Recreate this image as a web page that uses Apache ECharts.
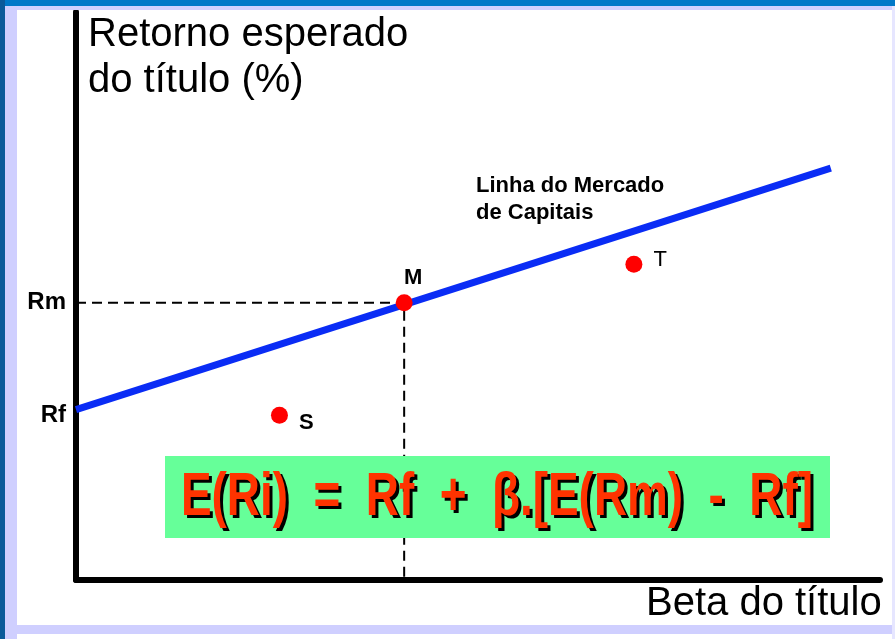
<!DOCTYPE html>
<html>
<head>
<meta charset="utf-8">
<script src="https://cdn.jsdelivr.net/npm/echarts@6/dist/echarts.min.js"></script>
<style>
  html, body { margin: 0; padding: 0; background: #ffffff; }
  #chart { width: 895px; height: 639px; }
</style>
</head>
<body>
<div id="chart"></div>
<script>
  // valores (beta no eixo x, retorno no eixo y)
  var rf = 3.0;
  var rm = 4.88;
  var lmcLine = [[0, 3.0], [2.30, 7.25]];
  var pontoM = [1, 4.88];
  var pontoT = [1.70, 5.56];
  var pontoS = [0.62, 2.90];
  var nomesPontos = ['M', 'T', 'S'];
  var eixoY = ['Rm', 'Rf'];
  var formula = 'E(Ri)  =  Rf  +  β.[E(Rm)  -  Rf]';

  var chart = echarts.init(document.getElementById('chart'));
  var fonte = '"Liberation Sans", Arial, sans-serif';

  var option = {
    animation: false,
    backgroundColor: '#ffffff',
    grid: { left: 76, right: 15, top: 12, bottom: 59 },
    xAxis: {
      type: 'value', min: 0, max: 2.45,
      axisLine: { show: true, lineStyle: { color: '#000', width: 6 } },
      axisTick: { show: false }, axisLabel: { show: false }, splitLine: { show: false }
    },
    yAxis: {
      type: 'value', min: 0, max: 10,
      axisLine: { show: true, lineStyle: { color: '#000', width: 6 } },
      axisTick: { show: false }, axisLabel: { show: false }, splitLine: { show: false }
    },
    series: [
      {
        // linhas tracejadas até Rm e até o eixo beta
        type: 'line',
        data: [[0, rm], pontoM, [pontoM[0], 0]],
        symbol: 'none',
        lineStyle: { color: '#000', width: 2, type: [10, 6] },
        z: 1
      },
      {
        type: 'line',
        data: lmcLine,
        symbol: 'none',
        lineStyle: { color: '#0a2cf5', width: 7 },
        z: 3
      },
      {
        type: 'scatter',
        data: [
          { value: pontoM, name: nomesPontos[0], label: { position: 'top', offset: [9, 0], fontWeight: 'bold' } },
          { value: pontoT, name: nomesPontos[1], label: { position: 'right', offset: [6, -4], fontWeight: 'normal' } },
          { value: pontoS, name: nomesPontos[2], label: { position: 'right', offset: [6, 8], fontWeight: 'bold' } }
        ],
        symbolSize: 17,
        itemStyle: { color: '#ff0000', opacity: 1 },
        label: { show: true, formatter: '{b}', color: '#000', fontSize: 22, fontFamily: fonte },
        z: 4
      },
      {
        // rótulos Rm e Rf no eixo vertical
        type: 'scatter',
        data: [
          { value: [0, rm], name: eixoY[0] },
          { value: [0, rf], name: eixoY[1], label: { offset: [0, 6] } }
        ],
        symbolSize: 0,
        itemStyle: { opacity: 1 },
        label: {
          show: true, position: 'left', distance: 10, formatter: '{b}',
          color: '#000', fontSize: 24, fontWeight: 'bold', fontFamily: fonte
        },
        z: 4
      }
    ],
    graphic: [
      { type: 'rect', shape: { x: 0, y: 0, width: 895, height: 6 }, style: { fill: '#0078c8' }, z: 200 },
      { type: 'rect', shape: { x: 0, y: 6, width: 895, height: 4 }, style: { fill: '#d0d0ff' }, z: 199 },
      { type: 'rect', shape: { x: 0, y: 0, width: 5, height: 639 }, style: { fill: '#0a5a9a' }, z: 200 },
      { type: 'rect', shape: { x: 5, y: 6, width: 12, height: 633 }, style: { fill: '#cfcfff' }, z: 199 },
      { type: 'rect', shape: { x: 5, y: 625, width: 890, height: 9 }, style: { fill: '#cfcfff' }, z: 199 },
      { type: 'rect', shape: { x: 892, y: 6, width: 3, height: 633 }, style: { fill: '#e6e6ff' }, z: 199 },
      {
        type: 'text', left: 88, top: 12, z: 100,
        style: { text: 'Retorno esperado\ndo título (%)', fill: '#000', font: '40px ' + fonte, lineHeight: 46 }
      },
      {
        type: 'text', left: 646, top: 584, z: 100,
        style: { text: 'Beta do título', fill: '#000', font: '40px ' + fonte }
      },
      {
        type: 'text', left: 476, top: 172, z: 100,
        style: { text: 'Linha do Mercado\nde Capitais', fill: '#000', font: 'bold 22px ' + fonte, lineHeight: 27 }
      },
      {
        type: 'rect', shape: { x: 165, y: 456, width: 665, height: 82 }, z: 100,
        style: { fill: '#66ff99' }
      },
      {
        // sombra preta da fórmula
        type: 'text', x: 500, y: 501, scaleX: 0.74, z: 101,
        style: {
          text: formula, fill: '#000', font: 'bold 62px ' + fonte,
          align: 'center', verticalAlign: 'middle'
        }
      },
      {
        type: 'text', x: 497, y: 498, scaleX: 0.74, z: 102,
        style: {
          text: formula, fill: '#ff3300', font: 'bold 62px ' + fonte,
          align: 'center', verticalAlign: 'middle'
        }
      }
    ]
  };
  chart.setOption(option);
</script>
</body>
</html>
